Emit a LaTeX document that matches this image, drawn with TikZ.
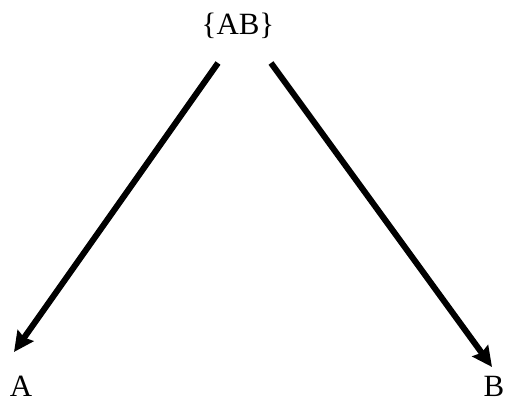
\documentclass[tikz,border=0pt]{standalone}
\usepackage{fontspec}
\setmainfont{Liberation Serif}
\usetikzlibrary{arrows.meta}

\begin{document}
\begin{tikzpicture}[
    set/.style={inner sep=0pt, font=\fontsize{22}{26}\selectfont},
    split/.style={line width=4.3pt, -{Stealth[length=0.5cm, width=0.48cm, inset=0.06cm]}}
]
\useasboundingbox (0,0) rectangle (12.7,10.05);

% Parent set
\node[set] (ab) at (5.95,9.4) {\{AB\}};

% Children
\node[set] (a) at (0.525,0.4) {A};
\node[set] (b) at (12.35,0.4) {B};

% Arrow ends
\coordinate (ab-left) at (5.45,8.475);
\coordinate (ab-right) at (6.775,8.475);
\coordinate (a-top) at (0.35,1.25);
\coordinate (b-top) at (12.3,0.875);

% Arrows
\draw[split] (ab-left) -- (a-top);
\draw[split] (ab-right) -- (b-top);

\end{tikzpicture}
\end{document}
